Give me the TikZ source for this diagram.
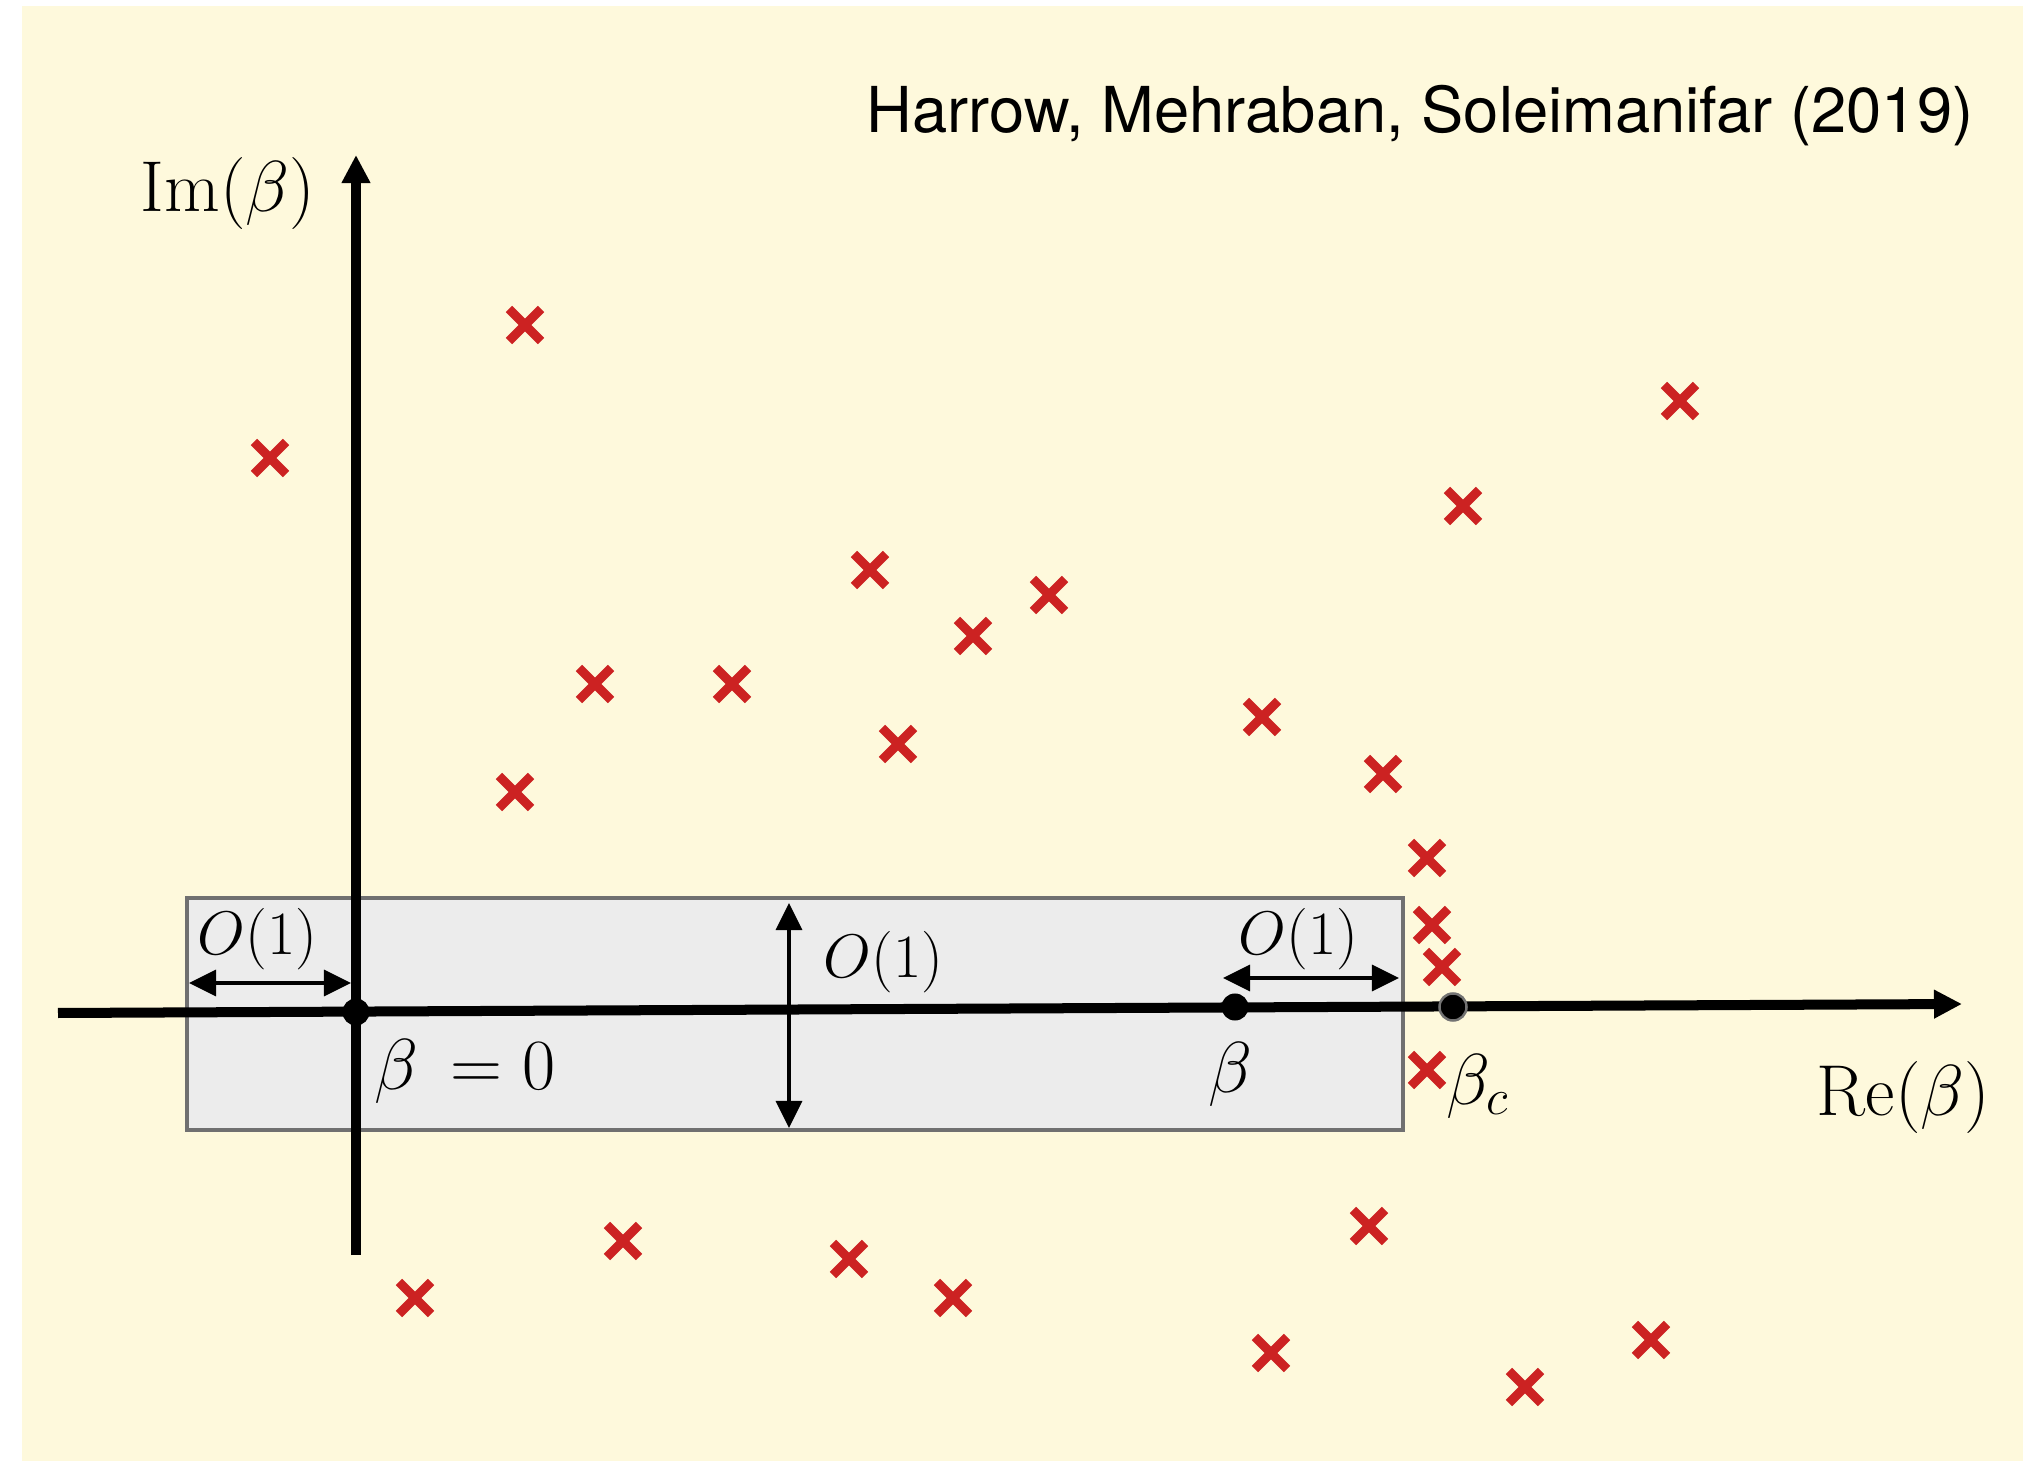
\RequirePackage{fix-cm}
\documentclass[tikz,border=0pt]{standalone}
\usepackage{fontspec}
\newfontfamily\creditfont{TeX Gyre Heros}
\usetikzlibrary{positioning,calc,arrows.meta,shapes.misc}

\definecolor{paper}{RGB}{254,249,220}
\definecolor{stripfill}{RGB}{236,236,236}
\definecolor{stripedge}{RGB}{112,112,112}
\definecolor{polered}{RGB}{204,34,34}

\begin{document}
\begin{tikzpicture}[
  x=0.01cm,
  y=-0.01cm,
  axis/.style={
    line width=0.1cm,
    -{Triangle[length=0.28cm,width=0.27cm]}
  },
  span/.style={
    line width=0.035cm,
    {Triangle[length=0.27cm,width=0.26cm]}-{Triangle[length=0.27cm,width=0.26cm]}
  },
  strip/.style={
    draw=stripedge,
    fill=stripfill,
    line width=0.04cm,
    inner sep=0pt,
    minimum width=12.16cm,
    minimum height=2.32cm
  },
  pole/.style={
    cross out,
    draw=polered,
    line width=0.09cm,
    minimum size=0.23cm,
    inner sep=0pt
  },
  pt/.style={
    circle,
    fill=black,
    inner sep=0pt,
    minimum size=0.27cm
  },
  axlabel/.style={inner sep=0pt, font=\fontsize{20.5}{24}\selectfont},
  olabel/.style={inner sep=0pt, font=\fontsize{17.5}{21}\selectfont}
]
% paper
\fill[white] (0,0) rectangle (2023,1461);
\fill[paper] (22,6) rectangle (2023,1461);

% the O(1) strip round the real axis
\node[strip] (strip) at (795,1014) {};

% axes
\coordinate (xstart) at (58,1013);
\coordinate (xend) at (1962,1004);
\coordinate (ystart) at (356,1255);
\coordinate (yend) at (356,155);
\draw[axis] (xstart) -- (xend);
\draw[axis] (ystart) -- (yend);
\node[axlabel, anchor=base west] (imlab) at (140,212) {$\mathrm{Im}(\beta)$};
\node[axlabel, anchor=base west] (relab) at (1816,1115) {$\mathrm{Re}(\beta)$};

% points on the real axis
\node[pt] (origin) at (356,1012) {};
\node[pt] (beta) at (1235,1007) {};
\node[pt, draw=black!55, line width=0.025cm] (betac) at (1453,1007) {};
\node[axlabel, anchor=base west] (originlab) at (374,1090) {$\beta\,= 0$};
\node[axlabel, anchor=base] (betalab) at (1230,1092) {$\beta$};
\node[axlabel, anchor=base west] (betaclab) at (1446,1104) {$\beta_c$};

% widths of the strip
\coordinate (left1) at (189,983);
\coordinate (left2) at (351,983);
\coordinate (right1) at (1223,978);
\coordinate (right2) at (1399,978);
\coordinate (mid1) at (789,903);
\coordinate (mid2) at (789,1128);
\draw[span] (left1) -- (left2);
\draw[span] (right1) -- (right2);
\draw[span] (mid1) -- (mid2);
\node[olabel, anchor=base west] (leftlab) at (197,955) {$O(1)$};
\node[olabel, anchor=base west] (rightlab) at (1238,955) {$O(1)$};
\node[olabel, anchor=base west] (midlab) at (823,978) {$O(1)$};

% zeros of the partition function
\foreach \px/\py [count=\i] in {
  270/458, 525/325, 595/684, 732/684, 515/792, 870/570, 973/636,
  1049/595, 898/744, 1262/717, 1463/506, 1680/401, 1383/774,
  1427/858, 1432/925, 1442/967, 1427/1070, 623/1241, 415/1298,
  849/1259, 953/1298, 1369/1226, 1271/1353, 1525/1387, 1651/1340}
  \node[pole] (zero\i) at (\px,\py) {};

% credit
\node[inner sep=0pt, anchor=base east, font=\creditfont\fontsize{18}{21}\selectfont] (credit) at (1974,133)
  {Harrow, Mehraban, Soleimanifar (2019)};
\end{tikzpicture}
\end{document}
